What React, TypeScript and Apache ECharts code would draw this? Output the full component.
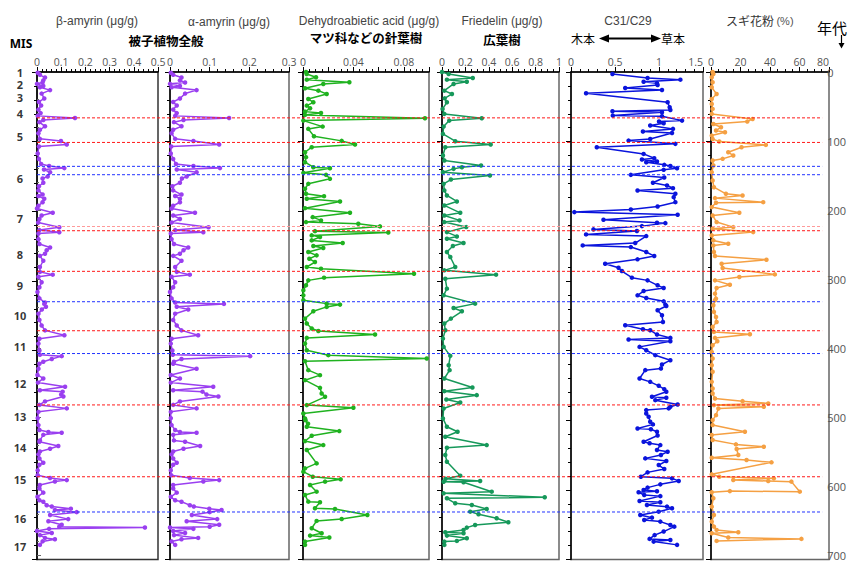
import React, { useEffect, useRef } from "react";
import * as echarts from "echarts";

// ---------- DATA ----------
// Shared sample ages (ka) for the amyrin records
const ageAmyrin = [
  1, 4, 8, 12, 15, 17, 20, 22, 26, 31,
  38, 43, 48, 54, 59, 63, 66, 69, 72, 78,
  83, 88, 96, 99, 104, 107, 117, 125, 132, 135,
  138, 140, 144, 150, 153, 159, 164, 170, 176, 178,
  182, 187, 192, 196, 202, 206, 211, 216, 223, 227,
  230, 232, 240, 247, 252, 256, 261, 264, 271, 280,
  287, 291, 294, 302, 309, 316, 325, 331, 333, 337,
  341, 347, 356, 364, 371, 378, 383, 390, 400, 406,
  408, 412, 416, 419, 426, 435, 440, 446, 452, 457,
  459, 463, 466, 473, 478, 483, 488, 497, 507, 514,
  517, 518, 521, 529, 531, 537, 541, 545, 549, 555,
  561, 564, 572, 579, 583, 586, 588, 593, 598, 604,
  610, 615, 617, 622, 624, 627, 629, 632, 636, 642,
  645, 650, 653, 654, 656, 659, 662, 665, 669, 671,
  674, 679,
];
const betaAmyrin = [
  0.003, 0.012, 0.033, 0.026, 0.023, 0.0, 0.026, 0.012, 0.054, 0.019,
  0.03, 0.008, 0.017, 0.006, 0.015, 0.003, 0.157, 0.026, 0.01, 0.033,
  0.012, 0.006, 0.012, 0.099, 0.123, 0.008, 0.003, 0.008, 0.017, 0.05,
  0.113, 0.029, 0.054, 0.044, 0.023, 0.026, 0.008, 0.006, 0.023, 0.006,
  0.03, 0.023, 0.006, 0.0, 0.065, 0.019, 0.01, 0.005, 0.092, 0.01,
  0.092, 0.006, 0.006, 0.01, 0.054, 0.04, 0.033, 0.012, 0.026, 0.012,
  0.012, 0.065, 0.006, 0.019, 0.01, 0.002, 0.01, 0.033, 0.03, 0.037,
  0.02, 0.006, 0.01, 0.019, 0.033, 0.113, 0.01, 0.006, 0.01, 0.012,
  0.102, 0.061, 0.026, 0.01, 0.006, 0.002, 0.026, 0.004, 0.116, 0.012,
  0.106, 0.1, 0.109, 0.033, 0.01, 0.123, 0.006, 0.003, 0.006, 0.01,
  0.047, 0.102, 0.026, 0.012, 0.01, 0.088, 0.054, 0.012, 0.006, 0.01,
  0.026, 0.01, 0.003, 0.003, 0.054, 0.123, 0.074, 0.012, 0.01, 0.026,
  0.002, 0.01, 0.026, 0.04, 0.061, 0.14, 0.074, 0.164, 0.054, 0.129,
  0.047, 0.102, 0.092, 0.446, 0.05, 0.0, 0.061, 0.012, 0.033, 0.074,
  0.023, 0.012,
];
const alphaAmyrin = [
  0.002, 0.008, 0.029, 0.025, 0.038, 0.0, 0.025, 0.004, 0.067, 0.038,
  0.025, 0.008, 0.017, 0.008, 0.017, 0.013, 0.149, 0.034, 0.01, 0.029,
  0.008, 0.004, 0.013, 0.059, 0.124, 0.003, 0.002, 0.008, 0.015, 0.059,
  0.126, 0.017, 0.067, 0.042, 0.03, 0.025, 0.006, 0.008, 0.029, 0.013,
  0.025, 0.025, 0.008, 0.004, 0.063, 0.008, 0.025, 0.004, 0.097, 0.013,
  0.084, 0.002, 0.004, 0.01, 0.046, 0.034, 0.025, 0.008, 0.029, 0.013,
  0.017, 0.05, 0.004, 0.013, 0.008, 0.0, 0.004, 0.013, 0.136, 0.017,
  0.046, 0.013, 0.008, 0.017, 0.029, 0.071, 0.004, 0.002, 0.006, 0.007,
  0.202, 0.029, 0.01, 0.008, 0.067, 0.002, 0.025, 0.002, 0.109, 0.008,
  0.082, 0.092, 0.122, 0.025, 0.008, 0.067, 0.002, 0.002, 0.004, 0.013,
  0.025, 0.067, 0.008, 0.01, 0.038, 0.076, 0.034, 0.008, 0.004, 0.008,
  0.017, 0.008, 0.002, 0.003, 0.05, 0.124, 0.084, 0.008, 0.008, 0.017,
  0.002, 0.013, 0.029, 0.05, 0.06, 0.099, 0.13, 0.1, 0.055, 0.119,
  0.042, 0.124, 0.1, 0.0, 0.059, 0.008, 0.038, 0.01, 0.071, 0.029,
  0.004, 0.013,
];

// [age (ka), value]
const dehydroabieticAcid = [
  [0, 0.0024], [2.9, 0.0029], [7.6, 0.0103], [11, 0.003], [14.8, 0.0368], [17.2, 0.0161],
  [23.4, 0.0016], [26.8, 0.0122], [31.5, 0.0188], [38.7, 0.0042], [43.5, 0.0082], [48.3, 0.003],
  [52.1, 0.0056], [56.9, 0.0016], [58.8, 0.0143], [61.6, 0.0016], [66.4, 0.0968], [69.8, 0.0003],
  [78.4, 0.0156], [81.7, 0.0042], [92.2, 0.0087], [98.9, 0.0307], [104.2, 0.0413], [108, 0.0069],
  [115.2, 0.0016], [122.3, 0.0024], [129.5, 0.0016], [136.7, 0.0082], [138.1, 0.0214], [144.8, 0.0003],
  [147.7, 0.0183], [153.4, 0.0214], [160.6, 0.0042], [167.7, 0.0016], [174.9, 0.0024], [178.3, 0.0167],
  [182.1, 0.003], [185.9, 0.0294], [195.5, 0.0016], [202.2, 0.0373], [208.4, 0.0077], [213.1, 0.0143],
  [215.5, 0.0024], [217.9, 0.0439], [221.7, 0.0611], [228.5, 0.0095], [230.5, 0.0677], [234.6, 0.0069],
  [237, 0.0135], [241.8, 0.0069], [245.6, 0.0315], [249.9, 0.0082], [252.8, 0.0161], [258.5, 0.0042],
  [263.3, 0.0108], [268.1, 0.005], [272.9, 0.0095], [280, 0.003], [282.4, 0.0143], [289.6, 0.0881],
  [295.3, 0.0167], [299.2, 0.0042], [306.3, 0.0024], [313.5, 0.0003], [320.7, 0.0003], [327.8, 0.0003],
  [332.6, 0.0188], [334, 0.0294], [337.3, 0.0188], [343.6, 0.0082], [354.1, 0.0016], [361.2, 0.003],
  [368.4, 0.0069], [371.8, 0.0122], [377, 0.0572], [381.8, 0.003], [390, 0.0016], [399.5, 0.003],
  [406.6, 0.0201], [411.4, 0.0982], [415.2, 0.0016], [428.1, 0.0042], [435.3, 0.0135], [442.5, 0.0016],
  [453.5, 0.0135], [461.6, 0.0148], [466.4, 0.0175], [478.3, 0.003], [482.2, 0.04], [490.3, 0.0003],
  [497.4, 0.0016], [500, 0.002], [505, 0.004], [509.4, 0.003], [515.6, 0.0288], [522.3, 0.0069],
  [530, 0.0016], [535.7, 0.0161], [542.8, 0.003], [562, 0.0108], [569.1, 0.0016], [573.9, 0.0003],
  [581.1, 0.0077], [584.9, 0.0299], [588.2, 0.0175], [593, 0.0056], [602.6, 0.0108], [607.4, 0.0016],
  [616.9, 0.0042], [617.9, 0.0135], [626.5, 0.0095], [627.4, 0.0254], [636.1, 0.0511], [641.8, 0.0307],
  [644.6, 0.0108], [655.1, 0.0069], [662.3, 0.0148], [665.7, 0.0056], [668.5, 0.0209], [674.3, 0.0016],
  [679, 0.0016],
];

const friedelin = [
  [0, 0.0], [2.9, 0.057], [8.6, 0.263], [11, 0.042], [13.9, 0.212], [17.2, 0.099], [26.8, 0.02],
  [31.5, 0.085], [37.8, 0.023], [43.5, 0.042], [53, 0.005], [60.2, 0.02], [66.4, 0.34], [69.8, 0.062],
  [78.4, 0.014], [88.9, 0.008], [99.4, 0.113], [104.2, 0.416], [108, 0.028], [120, 0.008], [127.1, 0.02],
  [134.3, 0.334], [136.7, 0.17], [139.1, 0.099], [143.8, 0.008], [148.6, 0.41], [154.4, 0.076],
  [160.6, 0.014], [170, 0.02], [177.3, 0.042], [185.9, 0.127], [191.6, 0.02], [202.2, 0.156], [206, 0.02],
  [213.1, 0.15], [215.5, 0.02], [222.7, 0.207], [229.9, 0.042], [236.1, 0.127], [239.4, 0.042],
  [245.6, 0.184], [249.9, 0.093], [258.5, 0.042], [265.7, 0.071], [280, 0.113], [284.8, 0.02],
  [291, 0.462], [296.8, 0.028], [311.1, 0.042], [320.7, 0.014], [332.6, 0.283], [338.8, 0.099],
  [343.6, 0.17], [354.1, 0.076], [361.2, 0.02], [370.8, 0.028], [382.8, 0.008], [394.7, 0.014],
  [407.6, 0.071], [421, 0.057], [428.1, 0.065], [440.1, 0.02], [453, 0.26], [458.3, 0.02], [464, 0.297],
  [470.2, 0.037], [474.5, 0.156], [483.1, 0.014], [497.4, 0.008], [509.4, 0.042], [516.6, 0.133],
  [523.7, 0.028], [535.7, 0.382], [539.5, 0.042], [550, 0.028], [559.6, 0.042], [579.6, 0.156],
  [584, 0.03], [587.3, 0.326], [588.3, 0.014], [589.2, 0.184], [602.6, 0.425], [605, 0.014],
  [610.7, 0.878], [612.1, 0.042], [619.3, 0.113], [621.7, 0.255], [627.4, 0.382], [631.3, 0.241],
  [635.1, 0.312], [640.8, 0.467], [646.6, 0.567], [650.4, 0.283], [654.2, 0.212], [657.5, 0.184],
  [660.9, 0.028], [662.3, 0.184], [665.7, 0.042], [669.5, 0.212], [673.3, 0.127], [674.3, 0.02],
  [679, 0.02],
];

const c31c29 = [
  [2.9, 0.471], [8.6, 0.87], [11, 1.243], [13.9, 0.825], [16.2, 0.977], [18.6, 0.984], [22.9, 0.616],
  [25.8, 1.034], [30.6, 0.171], [43.5, 1.098], [50.7, 1.121], [54.5, 1.129], [56.4, 0.471], [57.8, 1.034],
  [62.6, 0.475], [63.6, 1.034], [69.8, 1.262], [71, 1.0], [73.6, 1.053], [76.9, 0.9], [81.7, 1.159],
  [85.5, 0.817], [87.5, 1.148], [96.1, 0.9], [98.5, 0.654], [103.2, 1.186], [108, 0.293], [117.6, 0.825],
  [123.8, 0.946], [125.7, 0.806], [128.5, 0.977], [129.5, 0.855], [133.3, 1.06], [135, 1.129],
  [138.1, 1.205], [140.5, 1.053], [147.7, 0.68], [151.5, 1.06], [159.1, 0.931], [163, 1.091],
  [166.8, 1.159], [170.1, 0.756], [174.9, 1.186], [179.7, 1.167], [186.9, 1.186], [193.1, 0.984],
  [197.4, 0.68], [201.2, 0.038], [205, 1.212], [212.2, 0.369], [216.5, 0.977], [217, 1.072],
  [221.3, 0.806], [226, 0.255], [228.4, 0.749], [233.2, 0.171], [235.6, 0.855], [245.6, 0.73],
  [249, 0.133], [251.4, 0.68], [258.5, 0.855], [264.3, 0.946], [269, 0.756], [275.3, 0.388], [281, 0.54],
  [285.8, 0.578], [295.3, 0.692], [299.2, 0.87], [306.3, 0.984], [310.2, 1.053], [314.5, 0.825],
  [320.7, 0.756], [324.5, 0.855], [329.3, 1.053], [334, 1.072], [336, 1.083], [342.1, 0.984],
  [349.3, 1.034], [358.9, 1.045], [363.6, 0.616], [369.4, 0.817], [370.8, 0.9], [377, 0.977],
  [381.8, 1.129], [384, 0.654], [386.6, 1.129], [394.7, 0.779], [399.5, 0.855], [406.6, 0.958],
  [413.8, 1.129], [420, 1.034], [425.8, 1.022], [428.1, 0.844], [440.1, 0.779], [444.9, 0.9],
  [450.6, 0.997], [455.4, 1.06], [459.2, 1.083], [466.4, 0.92], [467.8, 1.083], [471.2, 0.958],
  [477.4, 1.212], [480.7, 1.129], [483, 1.11], [485.5, 0.855], [490.3, 0.855], [495, 0.882],
  [502.2, 0.9], [506, 0.931], [511.8, 0.756], [513, 0.908], [516.6, 0.977], [522, 0.984], [530.9, 0.825],
  [533, 0.893], [535.7, 1.015], [542.8, 0.977], [545.2, 1.098], [550, 1.022], [554.8, 0.844],
  [558.6, 1.083], [564.4, 0.997], [570.1, 1.06], [574.9, 0.87], [581.1, 0.794], [583.5, 1.148],
  [587.3, 1.224], [592.1, 1.015], [596.8, 0.87], [600.2, 0.825], [602, 0.977], [603.5, 0.768],
  [607.4, 0.832], [609, 1.015], [616, 0.779], [617.9, 1.015], [621.7, 0.863], [624.1, 1.091],
  [626.5, 1.148], [631.3, 0.996], [636.1, 0.787], [639.9, 0.92], [643.2, 0.832], [645.6, 1.015],
  [650.4, 1.129], [652.8, 1.174], [659.9, 1.053], [665, 0.95], [670.4, 0.893], [671.9, 1.129],
  [674.3, 0.939], [679, 1.205],
];

const sugiPollen = [
  [0, 1.1], [2.9, 1.6], [7.6, 0.5], [14.8, 1.1], [22, 0.5], [31.5, 3.8], [38.7, 0.5], [45.9, 0.5],
  [53, 1.1], [60.2, 0.5], [67.4, 28.2], [71.2, 24.6], [74.6, 1.6], [79.3, 6.8], [84.1, 3.4], [86.5, 9.5],
  [91.3, 0.5], [96.1, 1.1], [99.9, 5.6], [104.7, 37.2], [108, 20.7], [115.2, 11.7], [120, 15.1],
  [124.7, 7.9], [127.1, 1.1], [134.3, 1.6], [143.8, 0.5], [155.8, 1.1], [165.4, 2], [174.9, 10.1],
  [177.3, 21.4], [181.1, 2.7], [186.9, 35.4], [187.8, 3.4], [194, 0.5], [202.2, 19.2], [206, 1.1],
  [215.5, 3.8], [222.7, 15.1], [225.1, 1.1], [229.9, 28.6], [234.6, 0.5], [241.8, 1.6], [246.6, 11.7],
  [249, 1.6], [258.5, 2], [264.3, 2.7], [269.5, 37.6], [275.3, 7.2], [281.5, 7.9], [290.6, 43.3],
  [294.4, 19.2], [299.2, 2.7], [305.4, 12.8], [310.2, 3.8], [318.3, 2.7], [325.4, 3.4], [327.8, 2.7],
  [335, 1.6], [344.5, 2], [351.7, 3.4], [358.9, 3.8], [366, 1.1], [373.2, 2], [376.5, 26.4],
  [381.8, 2.7], [386.6, 4.3], [392.3, 1.1], [401.9, 0.5], [411.4, 1.1], [421, 0.5], [430.5, 1.1],
  [444.9, 0.5], [454.4, 1.1], [461.6, 1.1], [468.8, 2.7], [472.6, 21.4], [475.9, 38.8], [478.3, 2],
  [480.7, 35.8], [483.1, 5], [492.7, 3.4], [499.8, 1.1], [507, 1.1], [516.6, 23], [521.3, 0.5],
  [528.5, 1.1], [534.7, 16.9], [538.1, 35.8], [541.4, 17.4], [550, 18.5], [553.8, 0.5], [557.2, 24.1],
  [560.5, 41], [577.7, 0.5], [581.1, 5.6], [583.5, 42.6], [585.9, 15.1], [587.3, 38.8], [588.2, 54.5],
  [602.6, 60.2], [601.8, 12.8], [603.5, 0.5], [612.1, 1.6], [624.1, 0.5], [636.1, 2], [645.6, 0.5],
  [652.8, 2], [657.5, 3.8], [660.9, 18.5], [662.3, 0.5], [668.5, 11.7], [670.4, 61.3], [673.3, 3.8],
];

const misLabels = ["1", "2", "3", "4", "5", "6", "7", "8", "9", "10", "11", "12", "13", "14", "15", "16", "17"];
const misAges = [1, 18, 37, 59, 93, 153, 211, 262, 307, 349, 394, 447, 495, 539, 585, 641, 681];

const redLineAges = [66.4, 102, 229.8, 288.6, 374.6, 482, 586];
const fadedRedLineAges = [223.7];
const blueLineAges = [136.6, 148.7, 332.6, 407.6, 637];

// ---------- LAYOUT / STYLE ----------
const TOP = 72;
const HEIGHT = 487.5;
const panels = [
  { left: 37, width: 121 },
  { left: 170, width: 119 },
  { left: 303, width: 126 },
  { left: 442, width: 117 },
  { left: 571, width: 132 },
  { left: 711, width: 118 },
];
const LABEL_FONT = "'Open Sans', 'DejaVu Sans', sans-serif";
const TITLE_FONT = "'Liberation Sans', 'Noto Sans', sans-serif";
const JP_FONT = "'Noto Sans CJK JP', sans-serif";

function xAxisFor(
  i: number,
  max: number,
  interval: number,
  minor: number,
  fmt?: (v: number) => string,
  alignMax?: string
) {
  return {
    type: "value",
    gridIndex: i,
    position: "top",
    min: 0,
    max,
    interval,
    axisLine: { show: true, lineStyle: { color: "#000", width: 1.5 } },
    axisTick: { show: true, length: 5, lineStyle: { color: "#000", width: 1 } },
    minorTick: { show: true, splitNumber: minor, length: 3, lineStyle: { color: "#000", width: 1 } },
    splitLine: { show: false },
    minorSplitLine: { show: false },
    axisLabel: {
      show: true,
      color: "#555",
      fontSize: 10.5,
      fontFamily: LABEL_FONT,
      margin: 5,
      formatter: fmt,
      showMaxLabel: true,
      hideOverlap: false,
      alignMaxLabel: alignMax,
    },
  };
}

function yAxisFor(i: number) {
  return {
    type: "value",
    gridIndex: i,
    inverse: true,
    min: 0,
    max: 700,
    interval: 100,
    axisLine: { show: true, lineStyle: { color: "#000", width: 1.5 } },
    axisTick: { show: true, length: 5, lineStyle: { color: "#000", width: 1 } },
    minorTick: { show: true, splitNumber: 5, length: 3, lineStyle: { color: "#000", width: 1 } },
    splitLine: { show: false },
    minorSplitLine: { show: false },
    axisLabel: { show: false },
  };
}

function lineSeries(i: number, data: number[][], color: string) {
  return {
    type: "line",
    xAxisIndex: i,
    yAxisIndex: i,
    data,
    symbol: "circle",
    symbolSize: 4.5,
    showSymbol: true,
    lineStyle: { color, width: 1.5 },
    itemStyle: { color },
    z: 3,
  };
}

// one horizontal dotted reference line across all panels, positioned by the overlay scale
function refLine(age: number, color: string) {
  return {
    type: "line",
    xAxisIndex: 6,
    yAxisIndex: 6,
    data: [
      [0, age],
      [1, age],
    ],
    symbol: "none",
    silent: true,
    color,
    lineStyle: { color, type: [3, 2], width: 1, opacity: 1 },
    emphasis: { disabled: true },
    z: 10,
  };
}

const near = (v: number, t: number) => Math.abs(v - t) < 1e-6;

function buildOption() {
  const grids: any[] = panels.map((p, i) => ({
    left: p.left,
    width: p.width,
    top: TOP,
    height: HEIGHT,
    show: true,
    borderColor: i === 0 ? "#333" : "#666",
    borderWidth: 1.5,
    backgroundColor: "transparent",
  }));
  grids.push({ left: 37, right: 20, top: TOP, height: HEIGHT, show: false }); // overlay (6)
  grids.push({ left: 8, width: 24, top: TOP, height: HEIGHT, show: false }); // MIS (7)

  const xAxes: any[] = [
    xAxisFor(0, 0.5, 0.1, 5),
    xAxisFor(1, 0.3, 0.1, 5),
    xAxisFor(2, 0.1, 0.02, 4, (v: number) =>
      near(v, 0) ? "0" : near(v, 0.04) ? "0.04" : near(v, 0.08) ? "0.08" : ""
    ),
    xAxisFor(3, 1, 0.2, 4),
    xAxisFor(4, 1.5, 0.5, 5, undefined, "right"),
    xAxisFor(5, 80, 20, 4, undefined, "right"),
    { type: "value", gridIndex: 6, min: 0, max: 1, show: false },
    { type: "value", gridIndex: 7, min: 0, max: 1, show: false },
  ];
  const yAxes: any[] = panels.map((_, i) => yAxisFor(i));
  yAxes.push({
    type: "value",
    gridIndex: 6,
    position: "right",
    inverse: true,
    min: 0,
    max: 700,
    interval: 100,
    axisLine: { show: false },
    axisTick: { show: true, length: 4, lineStyle: { color: "#666" } },
    minorTick: { show: true, splitNumber: 5, length: 2, lineStyle: { color: "#666" } },
    splitLine: { show: false },
    axisLabel: { show: true, color: "#555", fontSize: 11, fontFamily: LABEL_FONT, margin: 5 },
  });
  yAxes.push({ type: "value", gridIndex: 7, inverse: true, min: 0, max: 700, show: false });

  const series: any[] = [
    lineSeries(0, ageAmyrin.map((a, k) => [betaAmyrin[k], a]), "#9a3ff0"),
    lineSeries(1, ageAmyrin.map((a, k) => [alphaAmyrin[k], a]), "#9a3ff0"),
    lineSeries(2, dehydroabieticAcid.map(([a, v]) => [v, a]), "#1fb21f"),
    lineSeries(3, friedelin.map(([a, v]) => [v, a]), "#16985a"),
    lineSeries(4, c31c29.map(([a, v]) => [v, a]), "#0a14dc"),
    lineSeries(5, sugiPollen.map(([a, v]) => [v, a]), "#f5a043"),
    ...redLineAges.map((a) => refLine(a, "#ff1a1a")),
    ...fadedRedLineAges.map((a) => refLine(a, "#ff9a9a")),
    ...blueLineAges.map((a) => refLine(a, "#2233ff")),
    {
      type: "scatter",
      xAxisIndex: 7,
      yAxisIndex: 7,
      symbolSize: 0,
      data: misAges.map((a, k) => ({ value: [0.5, a], name: misLabels[k] })),
      label: {
        show: true,
        position: "inside",
        formatter: "{b}",
        color: "#000",
        fontSize: 11,
        lineHeight: 10,
        fontWeight: "bold",
        fontFamily: "'Noto Sans', sans-serif",
      },
    },
  ];

  const t = (text: string, x: number, y: number, extra: any = {}) => ({
    type: "text",
    x,
    y,
    style: {
      text,
      align: "center",
      verticalAlign: "middle",
      fill: "#444",
      fontSize: 12,
      fontFamily: TITLE_FONT,
      ...extra,
    },
  });
  const jp = { fill: "#000", fontSize: 12.5, fontWeight: "bold", fontFamily: JP_FONT };

  const graphic: any[] = [
    t("MIS", 21, 43, { fill: "#000", fontWeight: "bold", fontSize: 12, fontFamily: "'Noto Sans', sans-serif" }),
    t("β-amyrin (μg/g)", 97, 21),
    t("α-amyrin (μg/g)", 229, 22),
    t("被子植物全般", 166, 40, jp),
    t("Dehydroabietic acid (μg/g)", 369, 21),
    t("マツ科などの針葉樹", 366, 37, jp),
    t("Friedelin (μg/g)", 502, 21),
    t("広葉樹", 502, 39, jp),
    t("C31/C29", 628, 21),
    t("木本", 583, 38, { fill: "#000", fontSize: 12, fontFamily: JP_FONT }),
    t("草本", 673, 38, { fill: "#000", fontSize: 12, fontFamily: JP_FONT }),
    {
      type: "line",
      shape: { x1: 606, y1: 38.5, x2: 654, y2: 38.5 },
      style: { stroke: "#000", lineWidth: 2.2 },
    },
    {
      type: "polygon",
      shape: { points: [[599, 38.5], [609, 34.5], [609, 42.5]] },
      style: { fill: "#000" },
    },
    {
      type: "polygon",
      shape: { points: [[661, 38.5], [651, 34.5], [651, 42.5]] },
      style: { fill: "#000" },
    },
    t("スギ花粉", 750, 20, { fill: "#333", fontSize: 12, fontFamily: JP_FONT }),
    t("(%)", 785, 21, { fill: "#555", fontSize: 11 }),
    t("年代", 832, 27, { fill: "#000", fontSize: 15, fontFamily: JP_FONT }),
    {
      type: "line",
      shape: { x1: 841.5, y1: 35, x2: 841.5, y2: 45 },
      style: { stroke: "#000", lineWidth: 1.2 },
    },
    {
      type: "polygon",
      shape: { points: [[841.5, 48.5], [838.5, 43], [844.5, 43]] },
      style: { fill: "#000" },
    },
  ];

  return {
    animation: false,
    backgroundColor: "#fff",
    grid: grids,
    xAxis: xAxes,
    yAxis: yAxes,
    series,
    graphic,
  };
}

export default function App() {
  const ref = useRef<HTMLDivElement>(null);
  useEffect(() => {
    if (!ref.current) return;
    const chart = echarts.init(ref.current, null, { renderer: "svg" });
    chart.setOption(buildOption() as any);
    return () => chart.dispose();
  }, []);
  return (
    <div
      ref={ref}
      style={{ width: 849, height: 561, position: "absolute", left: 0, top: 0 }}
    />
  );
}
